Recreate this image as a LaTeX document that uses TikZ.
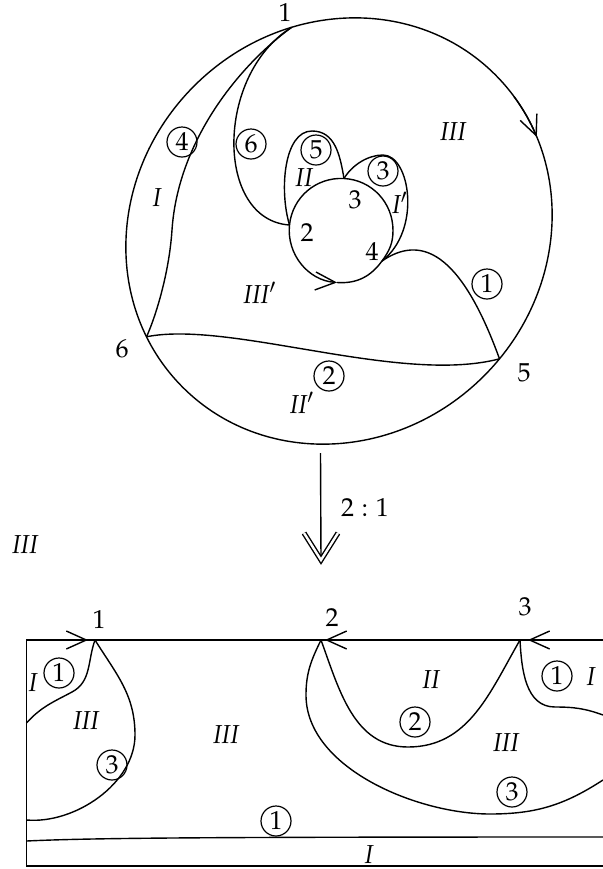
\documentclass[tikz,border=0pt]{standalone}
\usepackage[T1]{fontenc}
\usepackage{mathpazo}
\usepackage{tikz}
\usetikzlibrary{arrows.meta}

\begin{document}
\begin{tikzpicture}[x=.5pt,y=.5pt,line width=.7pt,font=\fontsize{13}{15}\selectfont,
cnum/.style={circle,draw,line width=.6pt,inner sep=0pt,minimum size=15pt},
reg/.style={font=\fontsize{13}{15}\selectfont\itshape},
barb/.style={-{Straight Barb[length=10pt,width=9pt]}},
dbl/.style={double,double distance=1.2pt}]
\useasboundingbox(0,0)rectangle(603,-869);

\begin{scope}[shift={(339,-231)},rotate=45]
\draw(0,0)ellipse[x radius=221,y radius=205];
\draw[barb](-8:221 and 205)arc[start angle=-8,end angle=-21,x radius=221,y radius=205];
\coordinate(P1)at(60:221 and 205);\coordinate(P6)at(162.6:221 and 205);\coordinate(P5)at(-84:221 and 205);
\end{scope}

\coordinate(P2)at(289.5,-225);\coordinate(IB)at(337,-282.5);\coordinate(P4)at(382,-261);\coordinate(IR)at(393,-230.5);\coordinate(P3)at(344,-178.5);
\draw[barb](P2)to[out=264,in=176](IB);
\draw(IB)to[out=-4,in=-126](P4)to[out=54,in=-90](IR)to[out=90,in=-3](P3)to[out=177,in=84](P2);

\coordinate(M4)at(172,-230);\coordinate(T5)at(312,-131);\coordinate(T3)at(383,-155);
\draw(P1)..controls(240,-65)and(178,-140)..(M4)..controls(169,-275)and(155,-318)..(P6);
\draw(P1)..controls(215,-75)and(215,-220)..(P2);
\draw(P2)..controls(279,-190)and(284,-131)..(T5)..controls(335,-131)and(340,-155)..(P3);
\draw(P3)..controls(352,-165)and(368,-155)..(T3)..controls(410,-155)and(422,-230)..(P4);
\draw(P4)..controls(420,-235)and(460,-250)..(P5);
\draw(P6)..controls(230,-320)and(400,-385)..(P5);

\node(n1)at(285,-13){1};\node(n6)at(122,-349){6};\node(n5)at(524,-373){5};
\node(n2)at(307,-233){2};\node(n3)at(355,-200){3};\node(n4)at(372,-252){4};
\node[cnum](c4)at(182,-142){4};\node[cnum](c6)at(251,-144){6};\node[cnum](c5)at(316,-150){5};
\node[cnum](c3)at(383,-171){3};\node[cnum](c1)at(487,-284){1};\node[cnum](c2)at(329,-376){2};
\node[reg](rIII)at(453,-132){III};\node[reg](rI)at(157,-198){I};\node[reg](rII)at(304,-178){II};
\node[reg](rIp)at(400,-203){I$'$};\node[reg](rIIIp)at(260,-293){III$'$};\node[reg](rIIp)at(302,-403){II$'$};

\coordinate(S)at(320.5,-453);\coordinate(Q)at(321,-560);
\draw(S)--(Q);
\draw[dbl](Q)++(-17,27)--(Q)--++(17,27);
\node(ratio)at(365,-507){$2:1$};
\node[reg](rIIIa)at(25,-545){III};

\coordinate(TL)at(26.5,-640);\coordinate(TR)at(603,-640);\coordinate(BL)at(26.5,-866);\coordinate(BR)at(603,-866);
\coordinate(Q1)at(95,-640);\coordinate(Q2)at(321,-640);\coordinate(Q3)at(520,-640);
\draw(TR)--(TL)--(BL)--(BR);
\draw[barb](TL)--([xshift=-3.5pt]Q1);\draw[barb](Q3)--([xshift=2pt]Q2);\draw[barb](TR)--([xshift=4pt]Q3);
\coordinate(L1)at(26.5,-723);\coordinate(L2)at(26.5,-820);\coordinate(L3)at(26.5,-841);
\coordinate(R1)at(603,-715);\coordinate(R2)at(603,-780);\coordinate(R3)at(603,-837);
\coordinate(K1)at(72,-692);\coordinate(RM)at(135,-735);\coordinate(MB)at(408,-747);
\coordinate(LM)at(306,-695);\coordinate(BM)at(490,-814);\coordinate(K3)at(555,-707);
\draw(Q1)to[out=-110,in=28](K1)to[out=208,in=48](L1);
\draw(Q1)to[out=-58,in=90](RM)to[out=-90,in=-5,looseness=.9](L2);
\draw(L3)..controls(90,-838)and(200,-837)..(R3);
\draw(Q2)to[out=-70,in=180](MB)to[out=0,in=240](Q3);
\draw(Q2)to[out=244,in=90](LM)to[out=-90,in=180,looseness=.85](BM)to[out=0,in=213](R2);
\draw(Q3)to[out=-87,in=180](K3)to[out=0,in=160](R1);

\node(m1)at(99,-620){1};\node(m2)at(332,-618){2};\node(m3)at(525,-607){3};
\node[reg](sI)at(33,-683){I};\node[cnum](d1)at(59,-673){1};\node[reg](sIII)at(86,-721){III};
\node[cnum](d3)at(112,-765){3};\node[reg](sIIIb)at(226,-735){III};\node[reg](sII)at(431,-680){II};
\node[cnum](d2)at(415,-722){2};\node[reg](sIIIc)at(506,-743){III};\node[cnum](d3b)at(512,-792){3};
\node[cnum](d1b)at(557,-676){1};\node[reg](sIb)at(591,-677){I};\node[cnum](d1c)at(276,-821){1};
\node[reg](sIc)at(369,-855){I};
\end{tikzpicture}
\end{document}
